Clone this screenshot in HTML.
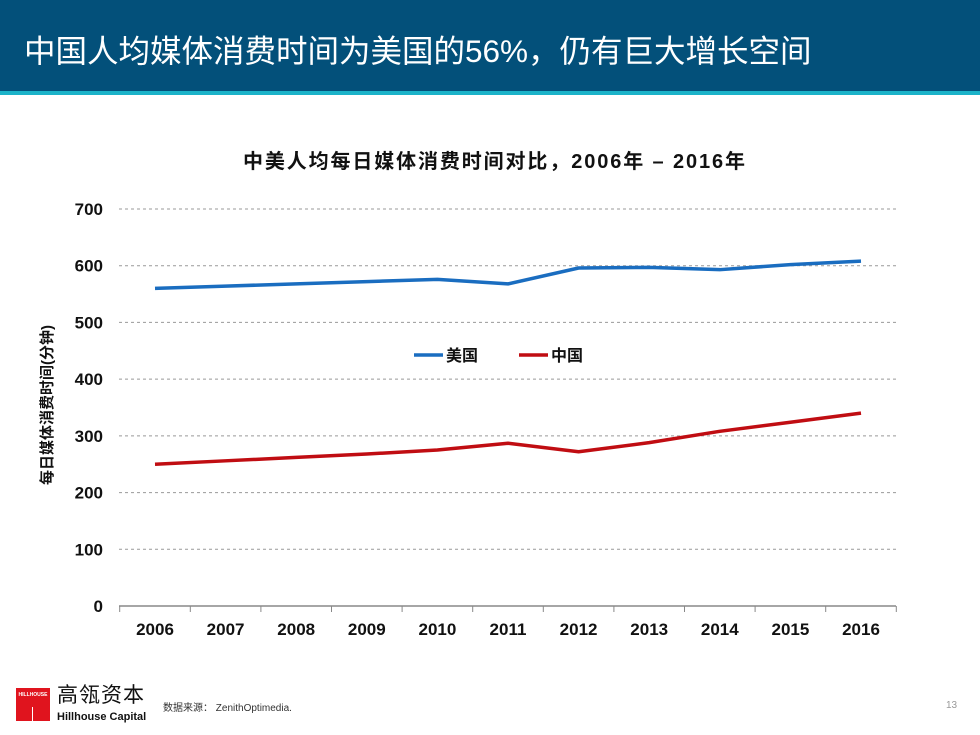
<!DOCTYPE html>
<html><head><meta charset="utf-8"><style>
body{margin:0;width:980px;height:735px;background:#fff;position:relative;overflow:hidden;font-family:"Liberation Sans","Noto Sans CJK SC",sans-serif}
.hdr{position:absolute;left:0;top:0;width:980px;height:91px;background:#03507a}
.stripe{position:absolute;left:0;top:91px;width:980px;height:4px;background:#1bb3c9}
.title{position:absolute;left:24px;top:26px;color:#fff;font-size:31.5px;white-space:nowrap}
</style></head><body>
<div class="hdr"></div>
<div class="stripe"></div>
<div class="title">中国人均媒体消费时间为美国的56%，仍有巨大增长空间</div>
<svg id="chart" width="980" height="735" style="position:absolute;left:0;top:0"></svg>
<div style="position:absolute;left:16px;top:688px;width:34px;height:33px;background:#e0141e">
<div style="color:#fff;font-size:5px;font-weight:bold;text-align:center;margin-top:4px">HILLHOUSE</div>
<div style="position:absolute;left:16px;top:19px;width:1px;height:14px;background:#fff"></div></div>
<div style="position:absolute;left:57px;top:683px;font-size:21px;color:#111;letter-spacing:1px;line-height:26px">高瓴资本</div>
<div style="position:absolute;left:57px;top:711px;font-size:11px;font-weight:bold;color:#111">Hillhouse Capital</div>
<div style="position:absolute;left:163px;top:699px;font-size:10px;color:#333">数据来源： ZenithOptimedia.</div>
<div style="position:absolute;left:946px;top:700px;font-size:10px;color:#999">13</div>
<script>
const years=["2006","2007","2008","2009","2010","2011","2012","2013","2014","2015","2016"];
const usValues=[560,564,568,572,576,568,596,597,593,602,608];
const cnValues=[250,256,262,268,275,287,272,288,308,324,340];
const yTicks=[0,100,200,300,400,500,600,700];
const svg=document.getElementById('chart');const NS='http://www.w3.org/2000/svg';
const x0=155,dx=70.6,yBase=606,yScale=397/700;
const X=i=>x0+i*dx, Y=v=>yBase-v*yScale;
function el(t,a,txt){const e=document.createElementNS(NS,t);for(const k in a)e.setAttribute(k,a[k]);if(txt!=null)e.textContent=txt;svg.appendChild(e);return e;}
let t=el('text',{x:494,y:168,'text-anchor':'middle','font-size':20,'font-weight':'bold',fill:'#111'},'中美人均每日媒体消费时间对比，2006年  –  2016年');


t.setAttribute('textLength','502');
yTicks.forEach(v=>{
 if(v>0){const g=el('line',{x1:119,x2:896,y1:Y(v),y2:Y(v),stroke:'#999','stroke-dasharray':'3,3','stroke-width':1});
 
 }
 const l=el('text',{x:103,y:Y(v)+6,'text-anchor':'end','font-size':17,'font-weight':'bold',fill:'#111'},v);
 
 
});
const ax=el('line',{x1:119,x2:896,y1:yBase,y2:yBase,stroke:'#888','stroke-width':1.5});


for(let i=0;i<=years.length;i++){const tk=el('line',{x1:X(i)-dx/2,x2:X(i)-dx/2,y1:yBase,y2:yBase+6,stroke:'#888'});

}
years.forEach((yr,i)=>{const l=el('text',{x:X(i),y:635,'text-anchor':'middle','font-size':17,'font-weight':'bold',fill:'#111'},yr);

});
const yt=el('text',{transform:'translate(52,405) rotate(-90)','text-anchor':'middle','font-size':15,'font-weight':'bold',fill:'#111'},'每日媒体消费时间(分钟)');


function series(vals,color,name){const p=el('polyline',{points:vals.map((v,i)=>X(i)+','+Y(v)).join(' '),fill:'none',stroke:color,'stroke-width':3.5,'stroke-linejoin':'round'});

}
series(usValues,'#1a6dc0','us-line');
series(cnValues,'#c00d12','china-line');
const l1=el('line',{x1:414,x2:443,y1:355,y2:355,stroke:'#1a6dc0','stroke-width':3.5});


const t1=el('text',{x:446,y:361,'font-size':16,'font-weight':'bold',fill:'#111'},'美国');


const l2=el('line',{x1:519,x2:548,y1:355,y2:355,stroke:'#c00d12','stroke-width':3.5});


const t2=el('text',{x:551,y:361,'font-size':16,'font-weight':'bold',fill:'#111'},'中国');


</script>
</body></html>
